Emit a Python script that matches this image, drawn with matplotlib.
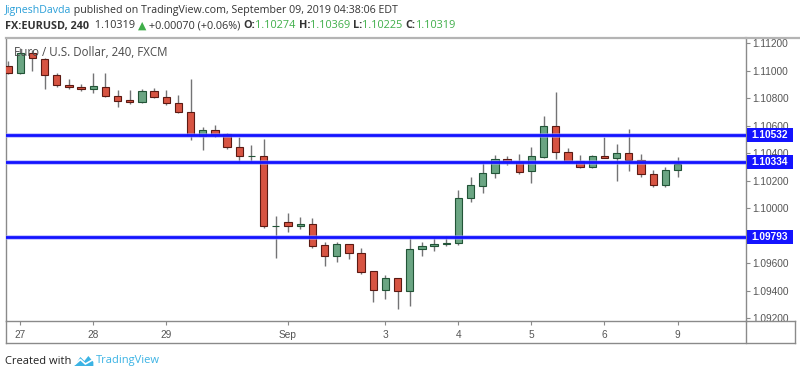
import matplotlib
matplotlib.use("Agg")
import matplotlib.pyplot as plt
from matplotlib.patches import Rectangle, Polygon
from matplotlib.lines import Line2D
import matplotlib.transforms as mtransforms
import numpy as np

# ---------------- data ----------------
opens = [1.11037, 1.10986, 1.11132, 1.11086, 1.10967, 1.10896, 1.10880, 1.10865, 1.10884, 1.10816,
         1.10785, 1.10770, 1.10853, 1.10807, 1.10763, 1.10702, 1.10527, 1.10569, 1.10540, 1.10447,
         1.10381, 1.10382, 1.09871, 1.09899, 1.09872, 1.09882, 1.09729, 1.09652, 1.09737, 1.09671,
         1.09540, 1.09404, 1.09489, 1.09397, 1.09702, 1.09722, 1.09739, 1.09744, 1.10072, 1.10163,
         1.10254, 1.10358, 1.10338, 1.10268, 1.10374, 1.10600, 1.10409, 1.10345, 1.10299, 1.10377,
         1.10367, 1.10404, 1.10350, 1.10246, 1.10171, 1.10274]
highs = [1.11073, 1.11166, 1.11151, 1.11093, 1.10984, 1.10940, 1.10904, 1.10984, 1.10984, 1.10860,
         1.10860, 1.10865, 1.10872, 1.10860, 1.10824, 1.10938, 1.10588, 1.10605, 1.10547, 1.10520,
         1.10460, 1.10501, 1.09945, 1.09965, 1.09935, 1.09926, 1.09756, 1.09756, 1.09740, 1.09708,
         1.09542, 1.09513, 1.09492, 1.09788, 1.09756, 1.09792, 1.09797, 1.10132, 1.10229, 1.10326,
         1.10387, 1.10380, 1.10394, 1.10447, 1.10673, 1.10848, 1.10436, 1.10385, 1.10387, 1.10520,
         1.10465, 1.10574, 1.10394, 1.10278, 1.10297, 1.10369]
lows = [1.10976, 1.10976, 1.11000, 1.10865, 1.10882, 1.10865, 1.10853, 1.10838, 1.10811, 1.10738,
        1.10758, 1.10763, 1.10800, 1.10751, 1.10690, 1.10496, 1.10423, 1.10520, 1.10428, 1.10338,
        1.10338, 1.09853, 1.09639, 1.09824, 1.09848, 1.09708, 1.09581, 1.09606, 1.09627, 1.09520,
        1.09315, 1.09336, 1.09266, 1.09290, 1.09652, 1.09690, 1.09727, 1.09732, 1.10042, 1.10108,
        1.10222, 1.10312, 1.10246, 1.10181, 1.10363, 1.10356, 1.10334, 1.10290, 1.10294, 1.10363,
        1.10200, 1.10273, 1.10229, 1.10156, 1.10156, 1.10225]
closes = [1.10986, 1.11129, 1.11091, 1.10969, 1.10896, 1.10880, 1.10865, 1.10887, 1.10816, 1.10782,
          1.10770, 1.10855, 1.10807, 1.10763, 1.10702, 1.10532, 1.10569, 1.10540, 1.10447, 1.10382,
          1.10383, 1.09872, 1.09872, 1.09872, 1.09882, 1.09727, 1.09652, 1.09737, 1.09671, 1.09537,
          1.09404, 1.09489, 1.09397, 1.09702, 1.09722, 1.09741, 1.09748, 1.10072, 1.10166, 1.10256,
          1.10358, 1.10336, 1.10265, 1.10377, 1.10600, 1.10409, 1.10343, 1.10299, 1.10377, 1.10367,
          1.10404, 1.10350, 1.10246, 1.10171, 1.10278, 1.10319]

day_tick_bars = [1, 7, 13, 23, 31, 37, 43, 49, 55]
day_tick_labels = ["27", "28", "29", "Sep", "3", "4", "5", "6", "9"]

price_ticks = [1.092, 1.094, 1.096, 1.098, 1.100, 1.102, 1.104, 1.106, 1.108, 1.110, 1.112]
levels = [1.10532, 1.10334, 1.09793]

# ---------------- styles ----------------
UP = "#6ba583"
DOWN = "#d75442"
UP_EDGE = "#225437"
DOWN_EDGE = "#5b1a13"
WICK = "#737375"
LEVEL = "#1414ff"
GRID_TXT = "#555555"
FRAME = "#8a8a8a"

W, H = 800, 376
fig = plt.figure(figsize=(W / 100, H / 100), dpi=100)
fig.patch.set_facecolor("white")

L, R, T, B = 5.7, 745.7, 38.0, 320.7
ax = fig.add_axes([L / W, (H - B) / H, (R - L) / W, (B - T) / H])
ax.set_facecolor("white")

o = np.array(opens); h = np.array(highs); l = np.array(lows); c = np.array(closes)
x = np.arange(len(o))
up = c >= o

ax.vlines(x, l, h, color=WICK, lw=1.0, zorder=2)
body_b = np.minimum(o, c)
body_h = np.maximum(np.abs(c - o), 0.000015)
ax.bar(x[up], body_h[up], bottom=body_b[up], width=0.6, color=UP,
       edgecolor=UP_EDGE, linewidth=0.8, zorder=3)
ax.bar(x[~up], body_h[~up], bottom=body_b[~up], width=0.6, color=DOWN,
       edgecolor=DOWN_EDGE, linewidth=0.8, zorder=3)

ax.set_xlim(-0.19, 60.6)
ax.set_ylim(1.091803, 1.112386)

# horizontal levels
for lv in levels:
    ax.axhline(lv, color="#9a9aff", lw=3.4, zorder=4, alpha=0.6)
    ax.axhline(lv, color=LEVEL, lw=2.0, zorder=4)

# axes styling
ax.yaxis.tick_right()
ax.set_yticks(price_ticks)
ax.set_yticklabels([f"{t:.5f}" for t in price_ticks])
ax.set_xticks(day_tick_bars)
ax.set_xticklabels(day_tick_labels)
ax.tick_params(axis="y", direction="out", length=3, width=0.8, color=FRAME,
               labelsize=7.3, labelcolor=GRID_TXT, pad=2)
ax.tick_params(axis="x", direction="out", length=3, width=0.8, color=FRAME,
               labelsize=7.3, labelcolor=GRID_TXT, pad=3.5)
for lab in ax.get_xticklabels() + ax.get_yticklabels():
    lab.set_family(["Liberation Sans", "DejaVu Sans"])
for s in ["left", "right", "bottom"]:
    ax.spines[s].set_color(FRAME)
    ax.spines[s].set_linewidth(1.0)
ax.spines["top"].set_color("#b4b4b4")
ax.spines["top"].set_linewidth(1.6)

# level labels on the price scale
blend = mtransforms.blended_transform_factory(ax.transAxes, ax.transData)
px_w = (R - L)
box_x0 = (746.5 - L) / px_w
box_w = (792.5 - 746.5) / px_w
box_hd = 14.0 / 13735.0
for lv in levels:
    ax.add_patch(Rectangle((box_x0, lv - box_hd / 2), box_w, box_hd, transform=blend,
                           facecolor=LEVEL, edgecolor="none", clip_on=False, zorder=10))
    ax.text(box_x0 + box_w / 2, lv, f"{lv:.5f}", transform=blend, ha="center", va="center",
            color="white", fontsize=7.3, fontweight="bold", clip_on=False, zorder=11,
            family=["Liberation Sans", "DejaVu Sans"])

# frame around axis rows
def fl(x0, y0, x1, y1, color=FRAME, lw=1.0):
    fig.add_artist(Line2D([x0 / W, x1 / W], [(H - y0) / H, (H - y1) / H],
                          transform=fig.transFigure, color=color, lw=lw))

fl(L, 343.3, 794.5, 343.3)
fl(L, B, L, 343.3)
fl(R, B, R, 343.3)
fl(794.5, B, 794.5, 343.3)
fl(R, B, 794.5, B)
fl(R, T, 800, T, color="#b4b4b4", lw=1.6)

# chart title inside plot
fig.text(14 / W, (H - 53) / H, "Euro / U.S. Dollar, 240, FXCM", color="#4a4a4a",
         fontsize=8.3, va="center", ha="left", family=["Open Sans", "DejaVu Sans"], zorder=20)

# header with coloured segments
fig.canvas.draw()
renderer = fig.canvas.get_renderer()
FAM = ["Open Sans", "DejaVu Sans"]

def segs(x0, y, parts, size):
    xpx = x0
    for txt, col, wt in parts:
        t = fig.text(xpx / W, (H - y) / H, txt, color=col, fontsize=size, fontweight=wt,
                     va="center", ha="left", family=FAM)
        bb = t.get_window_extent(renderer=renderer)
        xpx += bb.width

BLUE_NAME = "#2a9fd8"
DARK = "#333333"
GREEN = "#3fae49"
segs(5, 10, [("JigneshDavda", BLUE_NAME, "normal"),
             (" published on TradingView.com, September 09, 2019 04:38:06 EDT", DARK, "normal")], 7.7)
segs(5, 26, [("FX:EURUSD, 240", DARK, "bold"),
             ("  1.10319 ", DARK, "normal"),
             ("\u25B2", GREEN, "normal"),
             (" +0.00070 (+0.06%) ", DARK, "normal"),
             ("O:", DARK, "bold"), ("1.10274 ", GREEN, "normal"),
             ("H:", DARK, "bold"), ("1.10369 ", GREEN, "normal"),
             ("L:", DARK, "bold"), ("1.10225 ", GREEN, "normal"),
             ("C:", DARK, "bold"), ("1.10319", GREEN, "normal")], 7.8)

# footer
t = fig.text(5 / W, (H - 361) / H, "Created with", color="#222222", fontsize=8.0,
             va="center", ha="left", family=FAM)
bb = t.get_window_extent(renderer=renderer)
lx = 5 + bb.width + 3
logo = [(lx, 366), (lx + 6, 357), (lx + 10, 361), (lx + 14, 356), (lx + 19, 362), (lx + 19, 366)]
fig.add_artist(Polygon([(px / W, (H - py) / H) for px, py in logo], closed=True,
                       transform=fig.transFigure, facecolor="#3bb3e4", edgecolor="none"))
fig.add_artist(Line2D([(lx + 1) / W, (lx + 6) / W, (lx + 11) / W, (lx + 18) / W],
                      [(H - 364) / H, (H - 359.5) / H, (H - 364) / H, (H - 360) / H],
                      transform=fig.transFigure, color="white", lw=1.2))
fig.text((lx + 21) / W, (H - 361) / H, "TradingView", color="#3bb3e4", fontsize=8.0,
         va="center", ha="left", family=FAM)

fig.savefig("out.png", dpi=100, facecolor="white")
